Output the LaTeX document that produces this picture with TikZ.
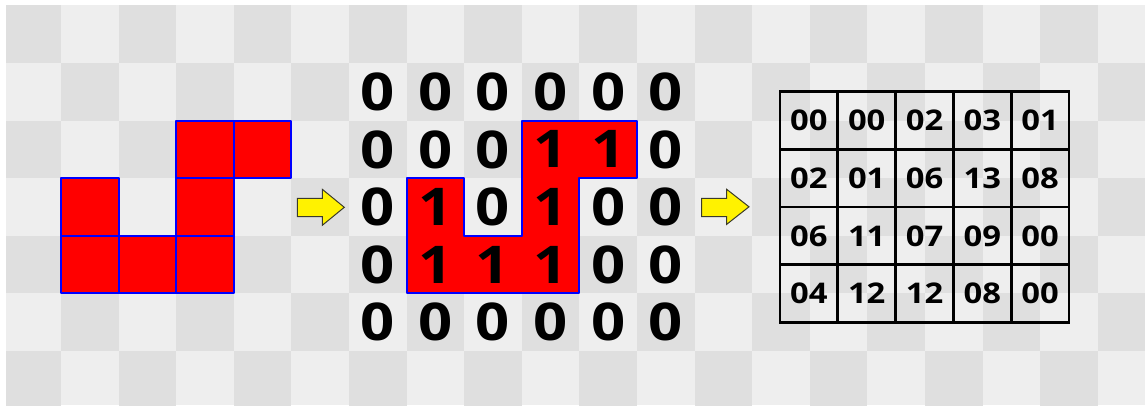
\documentclass[tikz,border=0pt]{standalone}
\usepackage{fontspec}
\setmainfont{Open Sans}
\newfontfamily\digitfont[FakeStretch=1.15]{Open Sans}
\definecolor{chkdark}{HTML}{DFDFDF}
\definecolor{chklight}{HTML}{EEEEEE}
\definecolor{arrowedge}{HTML}{3A3A2A}
\begin{document}
\begin{tikzpicture}[x=1pt,y=-1pt,
  redcell/.style={fill=red, draw=blue, line width=2pt, line join=round},
  redshape/.style={fill=red, draw=blue, line width=2pt, line join=round},
  bigdigit/.style={inner sep=0pt, font=\digitfont\fontsize{52}{60}\selectfont\bfseries},
  tabcell/.style={draw=black, line width=2.8pt, minimum width=57.8pt, minimum height=57.6pt, inner sep=0pt, outer sep=0pt, font=\digitfont\fontsize{28.5}{34}\selectfont\bfseries},
  yarrow/.style={fill=yellow, draw=arrowedge, line width=1pt, line join=miter}]
\def\cs{57.6}
\def\ox{3.4}
\def\oy{5.4}
\useasboundingbox (0,0) rectangle (1145,405);
\fill[white] (0,0) rectangle (1145,405);
% checkerboard
\begin{scope}
\clip (6,5) rectangle (1145,405);
\fill[chklight] (6,5) rectangle (1145,405);
\foreach \i in {0,...,19}{\foreach \j in {0,...,7}{
  \pgfmathtruncatemacro\p{mod(\i+\j,2)}
  \ifnum\p=0 \fill[chkdark] ({\ox+\cs*\i},{\oy+\cs*\j}) rectangle +(\cs,\cs);\fi
}}
\end{scope}
% left shape
\foreach \c/\r in {3/2,4/2,1/3,3/3,1/4,2/4,3/4}{
  \draw[redcell] ({\ox+\cs*\c},{\oy+\cs*\r}) rectangle +(\cs,\cs);
}
% arrow 1
\draw[yarrow] (297.3,198.3) -- (322.3,198.3) -- (322.3,189.3) -- (344.3,207.3) -- (322.3,225.3) -- (322.3,216.7) -- (297.3,216.7) -- cycle;
% middle shape
\draw[redshape] (406.6,178.2) -- (464.2,178.2) -- (464.2,235.8) -- (521.8,235.8) -- (521.8,120.6) -- (637,120.6) -- (637,178.2) -- (579.4,178.2) -- (579.4,293.4) -- (406.6,293.4) -- cycle;
% matrix digits
\foreach \row [count=\r from 0] in {{0,0,0,0,0,0},{0,0,0,1,1,0},{0,1,0,1,0,0},{0,1,1,1,0,0},{0,0,0,0,0,0}}{
  \foreach \v [count=\c from 0] in \row {
    \node[bigdigit] (m-\r-\c) at ({\ox+\cs*(\c+6.5)},{\oy+\cs*(\r+1.5)}) {\v};
  }
}
% arrow 2
\draw[yarrow] (701.7,198.3) -- (726.7,198.3) -- (726.7,189.3) -- (749,206.8) -- (726.7,224.3) -- (726.7,216.7) -- (701.7,216.7) -- cycle;
% table
\foreach \row [count=\r from 0] in {{00,00,02,03,01},{02,01,06,13,08},{06,11,07,09,00},{04,12,12,08,00}}{
  \foreach \v [count=\c from 0] in \row {
    \node[tabcell] (t-\r-\c) at ({780+57.8*(\c+0.5)},{91.7+57.65*(\r+0.5)}) {\v};
  }
}
\end{tikzpicture}
\end{document}
